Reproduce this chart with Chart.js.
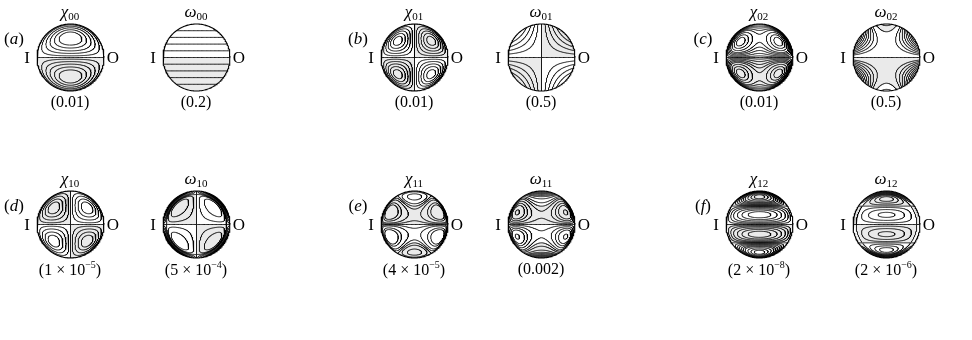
<!DOCTYPE html>
<html>
<head>
<meta charset="utf-8">
<script src="https://cdn.jsdelivr.net/npm/chart.js@4/dist/chart.umd.min.js"></script>
<style>
  body { margin: 0; width: 972px; height: 340px; background: #fff; position: relative; overflow: hidden;
         font-family: "Liberation Serif", "Times New Roman", serif; color: #000; }
  canvas.disk { position: absolute; }
  .lbl { position: absolute; white-space: nowrap; transform: translate(-50%, -50%); font-size: 16px; line-height: 1; }
  .lbl i { font-style: italic; }
  .lbl sub { font-size: 11px; vertical-align: -3px; }
  .lbl sup { font-size: 10px; vertical-align: 7px; }
</style>
</head>
<body>
<script>
// panel layout: two rows of three panels, each with a chi and an omega disk
const panelLetters = ["a", "b", "c", "d", "e", "f"];
const chiCentersX = [70, 414, 759];
const omegaCentersX = [196, 541, 886];
const letterX = [14, 358, 703];
const rowCenterY = [57, 224];
const radiusPx = 33.5;

// field names (symbol, subscript) and the amplitude written under each disk
const fieldKeys = ["chi00", "omega00", "chi01", "omega01", "chi02", "omega02",
                   "chi10", "omega10", "chi11", "omega11", "chi12", "omega12"];
const fieldSymbols = ["χ", "ω", "χ", "ω", "χ", "ω", "χ", "ω", "χ", "ω", "χ", "ω"];
const fieldSubs = ["00", "00", "01", "01", "02", "02", "10", "10", "11", "11", "12", "12"];
const amplitudeLabels = ["(0.01)", "(0.2)", "(0.01)", "(0.5)", "(0.01)", "(0.5)",
  "(1 × 10<sup>−5</sup>)", "(5 × 10<sup>−4</sup>)", "(4 × 10<sup>−5</sup>)", "(0.002)",
  "(2 × 10<sup>−8</sup>)", "(2 × 10<sup>−6</sup>)"];

// contour levels (positive half; each is mirrored with its negative, plus zero)
const levelsChi00 = [0.05, 0.12, 0.19, 0.26, 0.32];
const levelsOmega00 = [0.2, 0.4, 0.6, 0.8];
const levelsChi01 = [0.02, 0.045, 0.07, 0.093, 0.113];
const levelsOmega01 = [0.1, 0.2, 0.3, 0.4];
const levelsChi02 = [0.012, 0.03, 0.05, 0.07, 0.09, 0.12, 0.15, 0.175];
const levelsOmega02 = [0.3, 0.45, 0.6, 0.75, 0.9, 1.05, 1.2, 1.35];
const levelsChi10 = [0.02, 0.05, 0.08, 0.105];
const levelsOmega10 = [0.05, 0.14, 0.3, 0.4, 0.5, 0.6, 0.7, 0.8, 0.9, 0.97];
const levelsChi11 = [0.008, 0.02, 0.045, 0.065];
const levelsOmega11 = [0.012, 0.03, 0.05, 0.07, 0.1, 0.14, 0.19, 0.25, 0.32];
const levelsChi12 = [0.005, 0.012, 0.02, 0.03, 0.04, 0.05, 0.065, 0.08, 0.092];
const levelsOmega12 = [0.012, 0.028, 0.042, 0.06, 0.08, 0.1, 0.12];

// mode shapes on the unit disk (x towards O, y up); negative values are shaded
const wall = (x, y) => 1 - x * x - y * y;
const splitCap = (x, y) => y * y - 0.3 - 1.76 * x * x;
const modeShapes = {
  chi00: (x, y) => y * wall(x, y),
  omega00: (x, y) => y,
  chi01: (x, y) => -x * y * wall(x, y),
  omega01: (x, y) => -x * y,
  chi02: (x, y) => y * wall(x, y) * (0.25 + 2 * x * x),
  omega02: (x, y) => y * (0.59 + 3.5 * x * x - y * y),
  chi10: (x, y) => x * y * wall(x, y),
  omega10: (x, y) => x * y * (1 - 3 * Math.pow(x * x + y * y, 5)),
  chi11: (x, y) => y * wall(x, y) * splitCap(x, y) * (0.25 + x * x),
  omega11: (x, y) => y * wall(x, y) * splitCap(x, y) * (0.25 + x * x)
                     + 0.4 * Math.pow(y, 15) * Math.pow(1 - x * x, 2),
  chi12: (x, y) => y * (0.3 - y * y) * wall(x, y),
  omega12: (x, y) => y * (0.3 - y * y) * (0.82 - x * x - y * y)
};
const levelSets = {
  chi00: levelsChi00, omega00: levelsOmega00, chi01: levelsChi01, omega01: levelsOmega01,
  chi02: levelsChi02, omega02: levelsOmega02, chi10: levelsChi10, omega10: levelsOmega10,
  chi11: levelsChi11, omega11: levelsOmega11, chi12: levelsChi12, omega12: levelsOmega12
};

const GRID = 190;

// marching squares for one level, stitched into polylines separated by NaN gaps
function traceLevel(f, level, out) {
  const n = GRID, step = 2.04 / (n - 1), x0 = -1.02;
  const v = new Float64Array(n * n);
  for (let j = 0; j < n; j++)
    for (let i = 0; i < n; i++) v[j * n + i] = f(x0 + i * step, x0 + j * step) - level;
  const pts = new Map(), adj = new Map();
  const pointOn = (key, ia, ja, ib, jb) => {
    if (!pts.has(key)) {
      const va = v[ja * n + ia], vb = v[jb * n + ib], t = va / (va - vb);
      pts.set(key, [x0 + (ia + t * (ib - ia)) * step, x0 + (ja + t * (jb - ja)) * step]);
    }
    return key;
  };
  const link = (a, b) => {
    if (!adj.has(a)) adj.set(a, []);
    if (!adj.has(b)) adj.set(b, []);
    adj.get(a).push(b); adj.get(b).push(a);
  };
  for (let j = 0; j < n - 1; j++) {
    for (let i = 0; i < n - 1; i++) {
      const a = v[j * n + i], b = v[j * n + i + 1], c = v[(j + 1) * n + i + 1], d = v[(j + 1) * n + i];
      const code = (a > 0 ? 1 : 0) | (b > 0 ? 2 : 0) | (c > 0 ? 4 : 0) | (d > 0 ? 8 : 0);
      if (code === 0 || code === 15) continue;
      const B = () => pointOn((j * n + i) * 2, i, j, i + 1, j);
      const R = () => pointOn((j * n + i + 1) * 2 + 1, i + 1, j, i + 1, j + 1);
      const T = () => pointOn(((j + 1) * n + i) * 2, i, j + 1, i + 1, j + 1);
      const L = () => pointOn((j * n + i) * 2 + 1, i, j, i, j + 1);
      if (code === 5 || code === 10) {
        const centre = (a + b + c + d) / 4 > 0;
        if ((code === 5) === centre) { link(B(), R()); link(T(), L()); }
        else { link(L(), B()); link(R(), T()); }
        continue;
      }
      const cut = [];
      if ((a > 0) !== (b > 0)) cut.push(B());
      if ((b > 0) !== (c > 0)) cut.push(R());
      if ((c > 0) !== (d > 0)) cut.push(T());
      if ((d > 0) !== (a > 0)) cut.push(L());
      link(cut[0], cut[1]);
    }
  }
  const seen = new Set();
  const walk = (start) => {
    let prev = null, cur = start;
    while (cur !== undefined && !seen.has(cur)) {
      seen.add(cur);
      const p = pts.get(cur);
      out.push({ x: p[0], y: p[1] });
      const next = adj.get(cur).find(k => k !== prev && !seen.has(k));
      if (next === undefined) {
        const back = adj.get(cur).find(k => k !== prev && k === start);
        if (back !== undefined) out.push({ x: pts.get(start)[0], y: pts.get(start)[1] });
      }
      prev = cur; cur = next;
    }
    out.push({ x: NaN, y: NaN });
  };
  for (const [k, nb] of adj) if (nb.length === 1 && !seen.has(k)) walk(k);
  for (const k of adj.keys()) if (!seen.has(k)) walk(k);
}

function contourData(key) {
  const f = modeShapes[key], out = [];
  const levels = [0];
  levelSets[key].forEach(l => levels.push(l, -l));
  levels.forEach(l => traceLevel(f, l, out));
  return out;
}

function circleData() {
  const pts = [];
  for (let k = 0; k <= 240; k++) {
    const a = (k / 240) * 2 * Math.PI;
    pts.push({ x: Math.cos(a), y: Math.sin(a) });
  }
  return pts;
}

// shade the negative part of the field inside the disk
const shadePlugin = {
  id: "negativeShade",
  beforeDatasetsDraw(chart, args, opts) {
    const f = opts.field, { left, top, width, height } = chart.chartArea;
    const sx = chart.scales.x, sy = chart.scales.y;
    const w = Math.ceil(width), h = Math.ceil(height);
    const off = document.createElement("canvas");
    off.width = w; off.height = h;
    const octx = off.getContext("2d"), img = octx.createImageData(w, h);
    for (let py = 0; py < h; py++) {
      for (let px = 0; px < w; px++) {
        let cover = 0;
        for (let s = 0; s < 4; s++) {
          const vx = sx.getValueForPixel(left + px + 0.25 + 0.5 * (s % 2));
          const vy = sy.getValueForPixel(top + py + 0.25 + 0.5 * (s >> 1));
          if (vx * vx + vy * vy <= 1 && f(vx, vy) < 0) cover++;
        }
        const o = (py * w + px) * 4;
        img.data[o] = 234; img.data[o + 1] = 234; img.data[o + 2] = 234;
        img.data[o + 3] = Math.round(cover / 4 * 255);
      }
    }
    octx.putImageData(img, 0, 0);
    chart.ctx.drawImage(off, left, top);
  }
};

// keep contour lines inside the disk
const diskClip = {
  id: "diskClip",
  beforeDatasetDraw(chart, args) {
    if (args.index !== 0) return;
    const sx = chart.scales.x, sy = chart.scales.y;
    const cx = sx.getPixelForValue(0), cy = sy.getPixelForValue(0);
    const r = sx.getPixelForValue(1) - cx;
    chart.ctx.save();
    chart.ctx.beginPath();
    chart.ctx.arc(cx, cy, r, 0, 2 * Math.PI);
    chart.ctx.clip();
  },
  afterDatasetDraw(chart, args) {
    if (args.index === 0) chart.ctx.restore();
  }
};

function addLabel(html, x, y, size) {
  const d = document.createElement("div");
  d.className = "lbl";
  d.innerHTML = html;
  d.style.left = x + "px";
  d.style.top = y + "px";
  if (size) d.style.fontSize = size + "px";
  document.body.appendChild(d);
}

const pad = 3;
fieldKeys.forEach((key, idx) => {
  const panel = Math.floor(idx / 2), row = Math.floor(panel / 3), col = panel % 3;
  const isChi = idx % 2 === 0;
  const cx = isChi ? chiCentersX[col] : omegaCentersX[col];
  const cy = rowCenterY[row];
  const size = Math.round(2 * radiusPx + 2 * pad);

  const cv = document.createElement("canvas");
  cv.className = "disk";
  cv.width = size; cv.height = size;
  cv.style.left = (cx - size / 2) + "px";
  cv.style.top = (cy - size / 2) + "px";
  document.body.appendChild(cv);

  new Chart(cv, {
    type: "scatter",
    data: {
      datasets: [
        { data: contourData(key), showLine: true, borderColor: "#000", borderWidth: 0.9,
          pointRadius: 0, spanGaps: false, tension: 0 },
        { data: circleData(), showLine: true, borderColor: "#000", borderWidth: 1.1,
          pointRadius: 0, clip: false, tension: 0 }
      ]
    },
    options: {
      responsive: false,
      animation: false,
      events: [],
      layout: { padding: pad },
      scales: {
        x: { type: "linear", min: -1, max: 1, display: false },
        y: { type: "linear", min: -1, max: 1, display: false }
      },
      plugins: {
        legend: { display: false },
        tooltip: { enabled: false },
        negativeShade: { field: modeShapes[key] }
      }
    },
    plugins: [shadePlugin, diskClip]
  });

  addLabel("<i>" + fieldSymbols[idx] + "</i><sub>" + fieldSubs[idx] + "</sub>", cx, cy - 45, 17);
  addLabel("I", cx - 43, cy, 17);
  addLabel("O", cx + 43, cy, 17);
  addLabel(amplitudeLabels[idx], cx, cy + 45, 16);
  if (isChi) addLabel("(<i>" + panelLetters[panel] + "</i>)", letterX[col], cy - 19, 17);
});
</script>
</body>
</html>
